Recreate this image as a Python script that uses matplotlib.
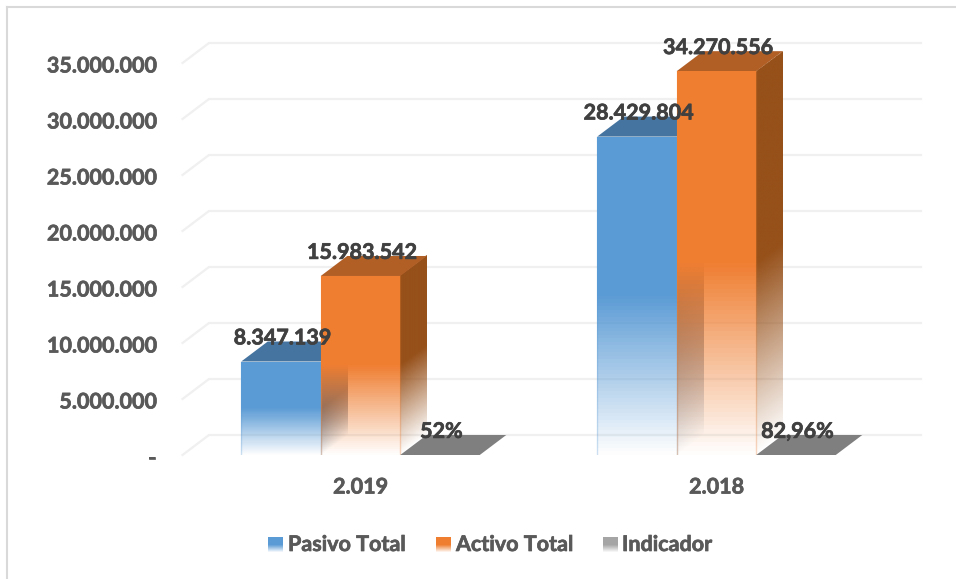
import numpy as np
import matplotlib as mpl
mpl.use('Agg')
import matplotlib.pyplot as plt
import matplotlib.patheffects as pe
from matplotlib.colors import to_rgb
from matplotlib.lines import Line2D
from matplotlib.patches import Polygon
from matplotlib.transforms import ScaledTranslation

years = ['2.019', '2.018']
pasivo = [8347139, 28429804]
activo = [15983542, 34270556]
indicador = [0.52, 0.8296]

pasivo_labels = ['8.347.139', '28.429.804']
activo_labels = ['15.983.542', '34.270.556']
indicador_labels = ['52%', '82,96%']

y_ticks = [0, 5000000, 10000000, 15000000, 20000000, 25000000, 30000000, 35000000]
y_tick_labels = ['-', '5.000.000', '10.000.000', '15.000.000', '20.000.000',
                 '25.000.000', '30.000.000', '35.000.000']

legend_names = ['Pasivo Total', 'Activo Total', 'Indicador']

# front, top, side
BLUE = ['#5b9bd5', '#44749f', '#3a6286']
ORANGE = ['#ef7e31', '#b25f26', '#965019']
GREY = ['#a5a5a5', '#7f7f7f', '#6e6e6e']

W, H = 956, 579
BAR_W = 79.5 / 356
DX = 26.5 / 356          # depth of the 3d box, in axis units
DY = 20 * 5000000 / 56
FS = 15.5
HEAVY = [pe.withStroke(linewidth=0.5, foreground='#595959')]
HEAVY_DARK = [pe.withStroke(linewidth=0.5, foreground='#404040')]

plt.rcParams['font.family'] = ['Lato', 'DejaVu Sans']
plt.rcParams['font.weight'] = 'bold'

fig = plt.figure(figsize=(W / 100, H / 100), dpi=100)
ax = fig.add_axes([182.5 / W, (H - 455) / H, 712 / W, 448 / H])
ax.set_xlim(-0.5, 1.5)
ax.set_ylim(0, 40000000)
ax.set_frame_on(False)


def fade(color, n=90, start=0.5):
    # solid on the upper half of the bar, going to nothing at the floor
    t = (np.arange(n) + 0.5) / n
    rgba = np.zeros((n, 1, 4))
    rgba[:, 0, :3] = to_rgb(color)
    rgba[:, 0, 3] = np.clip(t / start, 0, 1)
    return rgba


def side_image(color, value, start=0.5, rows=500, cols=60):
    # the fade on the side runs along the slope of the box
    top = value + DY
    ys = (np.arange(rows) + 0.5) / rows * top
    xs = (np.arange(cols) + 0.5) / cols
    s, y = np.meshgrid(xs, ys)
    t = (y - s * DY) / value
    rgba = np.zeros((rows, cols, 4))
    rgba[..., :3] = to_rgb(color)
    rgba[..., 3] = np.where((t < 0) | (t > 1), 0, np.clip(t / start, 0, 1))
    return rgba


def box(x0, value, colors, zorder, fading=True):
    x1 = x0 + BAR_W
    n = 90
    t = np.linspace(0, 1, n + 1)[:, None]
    # side
    ax.imshow(side_image(colors[2], value), origin='lower', aspect='auto',
              extent=(x1, x1 + DX, 0, value + DY), zorder=zorder,
              interpolation='bilinear', clip_on=False)
    # top
    ax.add_patch(Polygon([(x0, value), (x1, value), (x1 + DX, value + DY), (x0 + DX, value + DY)],
                         fc=colors[1], ec='none', zorder=zorder + 0.1, clip_on=False))
    # front
    X = np.repeat([[x0, x1]], n + 1, axis=0)
    Y = value * t + np.array([[0, 0]])
    ax.pcolormesh(X, Y, fade(colors[0]), zorder=zorder + 0.2, clip_on=False)
    if fading:
        edge = mpl.colors.to_rgba(colors[0], 0.3)
        ax.plot([x0, x0], [0, value], color=edge, lw=1, zorder=zorder + 0.3)
        ax.plot([x1, x1], [0, value], color=edge, lw=1, zorder=zorder + 0.3)


for v in y_ticks:
    ax.plot([-0.5, -0.5 + DX, 1.5 + DX], [v, v + DY, v + DY], color='#f0f0f0', lw=1.6,
            zorder=1, clip_on=False, solid_joinstyle='miter')

for i in range(len(years)):
    box(i - 1.5 * BAR_W, pasivo[i], BLUE, 2)
    box(i - 0.5 * BAR_W, activo[i], ORANGE, 3)
    box(i + 0.5 * BAR_W, indicador[i], GREY, 4, fading=False)

    for off, val, txt in [(-BAR_W, pasivo[i], pasivo_labels[i]),
                          (0, activo[i], activo_labels[i]),
                          (BAR_W, indicador[i], indicador_labels[i])]:
        ax.annotate(txt, (i + off, val), xytext=(1, 17), textcoords='offset points',
                    ha='center', va='center', fontsize=FS, fontweight='bold',
                    color='#404040', zorder=10, annotation_clip=False,
                    path_effects=HEAVY_DARK)

ax.set_xlim(-0.5, 1.5)
ax.set_ylim(0, 40000000)
ax.set_yticks(y_ticks)
ax.set_yticklabels(y_tick_labels)
ax.set_xticks(range(len(years)))
ax.set_xticklabels(years)
ax.tick_params(axis='y', length=0, pad=19, labelsize=FS, labelcolor='#595959')
ax.tick_params(axis='x', length=0, pad=15.5, labelsize=FS, labelcolor='#595959')
for lab in ax.get_yticklabels():
    lab.set_transform(lab.get_transform() + ScaledTranslation(0, -1 / 100, fig.dpi_scale_trans))
    lab.set_path_effects(HEAVY)
for lab in ax.get_xticklabels():
    lab.set_path_effects(HEAVY)

# legend, laid out by hand because the swatches carry the same fade
swatch_x = [268, 436, 603]
text_x = [288, 456, 622]
swatch_colors = [BLUE[0], ORANGE[0], GREY[0]]
for name, sx, tx, col in zip(legend_names, swatch_x, text_x, swatch_colors):
    sw = fig.add_axes([sx / W, (H - 552) / H, 14.5 / W, 15 / H])
    sw.set_axis_off()
    sw.pcolormesh(np.array([0, 1]), np.linspace(0, 1, 31), fade(col, n=30))
    sw.set_xlim(0, 1)
    sw.set_ylim(0, 1)
    fig.text(tx / W, (H - 544.5) / H, name, fontsize=FS, fontweight='bold', color='#595959',
             ha='left', va='center', path_effects=HEAVY)

# only the top and left of the chart border survive in the crop
fig.add_artist(Line2D([7 / W, 7 / W], [0, (H - 7) / H], color='#d9d9d9', lw=1.5))
fig.add_artist(Line2D([7 / W, 1], [(H - 7) / H, (H - 7) / H], color='#d9d9d9', lw=1.5))

fig.savefig('out.png', dpi=100)
